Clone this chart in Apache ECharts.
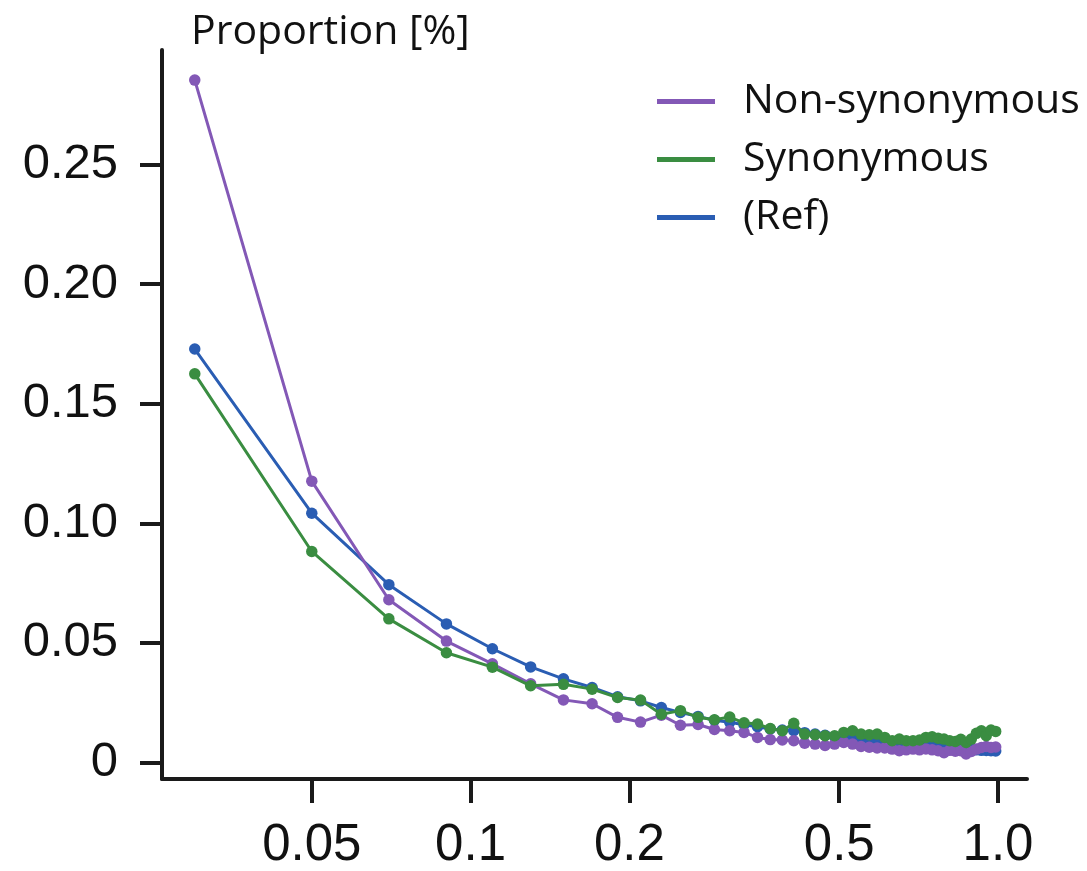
<!DOCTYPE html>
<html>
<head>
<meta charset="utf-8">
<style>
  html, body { margin: 0; padding: 0; background: #fff; }
  #chart { width: 1087px; height: 871px; }
</style>
<script src="https://cdn.jsdelivr.net/npm/echarts@6/dist/echarts.min.js"></script>
</head>
<body>
<div id="chart"></div>
<script>
const xValues = [0.03, 0.05, 0.07, 0.09, 0.11, 0.13, 0.15, 0.17, 0.19, 0.21,
  0.23, 0.25, 0.27, 0.29, 0.31, 0.33, 0.35, 0.37, 0.39, 0.41,
  0.43, 0.45, 0.47, 0.49, 0.51, 0.53, 0.55, 0.57, 0.59, 0.61,
  0.63, 0.65, 0.67, 0.69, 0.71, 0.73, 0.75, 0.77, 0.79, 0.81,
  0.83, 0.85, 0.87, 0.89, 0.91, 0.93, 0.95, 0.97, 0.99];

const nonSynonymous = [0.2854, 0.1176, 0.0680, 0.0507, 0.0412, 0.0328, 0.0261, 0.0245, 0.0188, 0.0168,
  0.0197, 0.0155, 0.0158, 0.0137, 0.0132, 0.0125, 0.0104, 0.0095, 0.0093, 0.0090,
  0.0080, 0.0076, 0.0070, 0.0076, 0.0083, 0.0076, 0.0066, 0.0063, 0.0060, 0.0060,
  0.0055, 0.0048, 0.0052, 0.0055, 0.0052, 0.0056, 0.0052, 0.0048, 0.0040, 0.0050,
  0.0046, 0.0048, 0.0035, 0.0045, 0.0055, 0.0062, 0.0066, 0.0062, 0.0064];

const synonymous = [0.1625, 0.0882, 0.0600, 0.0458, 0.0398, 0.0320, 0.0326, 0.0306, 0.0271, 0.0260,
  0.0201, 0.0216, 0.0188, 0.0178, 0.0189, 0.0165, 0.0160, 0.0141, 0.0132, 0.0163,
  0.0118, 0.0115, 0.0111, 0.0111, 0.0125, 0.0132, 0.0118, 0.0115, 0.0118, 0.0104,
  0.0090, 0.0097, 0.0090, 0.0090, 0.0093, 0.0104, 0.0107, 0.0101, 0.0097, 0.0090,
  0.0087, 0.0096, 0.0083, 0.0097, 0.0121, 0.0132, 0.0111, 0.0135, 0.0129];

const reference = [0.1729, 0.1042, 0.0743, 0.0579, 0.0475, 0.0399, 0.0349, 0.0313, 0.0274, 0.0257,
  0.0229, 0.0208, 0.0192, 0.0176, 0.0167, 0.0157, 0.0149, 0.0139, 0.0135, 0.0132,
  0.0124, 0.0118, 0.0113, 0.0108, 0.0104, 0.0099, 0.0095, 0.0091, 0.0088, 0.0084,
  0.0081, 0.0078, 0.0075, 0.0073, 0.0071, 0.0069, 0.0067, 0.0065, 0.0063, 0.0061,
  0.0059, 0.0057, 0.0055, 0.0054, 0.0052, 0.0050, 0.0049, 0.0048, 0.0047];

const xTickValues = [0.05, 0.1, 0.2, 0.5, 1.0];
const xTickLabels = ['0.05', '0.1', '0.2', '0.5', '1.0'];
const yTickValues = [0, 0.05, 0.1, 0.15, 0.2, 0.25];
const yTickLabels = ['0', '0.05', '0.10', '0.15', '0.20', '0.25'];

const seriesNames = ['Non-synonymous', 'Synonymous', '(Ref)'];
const seriesColors = ['#8358b6', '#3a8d41', '#2a5db3'];

function pairs(ys) { return xValues.map((x, i) => [x, ys[i]]); }
function lookup(values, labels, v) {
  for (let i = 0; i < values.length; i++) {
    if (Math.abs(values[i] - v) < 1e-9) return labels[i];
  }
  return '';
}

const chart = echarts.init(document.getElementById('chart'), null, { renderer: 'canvas' });
const axisColor = '#1a1a1a';

function mkSeries(idx, data, z) {
  return {
    name: seriesNames[idx],
    type: 'line',
    data: pairs(data),
    z: z,
    symbol: 'circle',
    symbolSize: 11.5,
    showSymbol: true,
    showAllSymbol: true,
    clip: false,
    color: seriesColors[idx],
    lineStyle: { width: 3, color: seriesColors[idx] },
    itemStyle: { color: seriesColors[idx] },
    emphasis: { disabled: true }
  };
}

chart.setOption({
  animation: false,
  title: {
    text: 'Proportion [%]',
    left: 186,
    top: 7,
    textStyle: { fontFamily: 'Open Sans', fontSize: 41, fontWeight: 'normal', color: '#111' }
  },
  legend: {
    orient: 'vertical',
    left: 652,
    top: 76,
    itemWidth: 58,
    itemHeight: 5,
    itemGap: 17,
    icon: 'rect',
    data: seriesNames,
    selectedMode: false,
    textStyle: { fontFamily: 'Open Sans', fontSize: 41, color: '#111', padding: [0, 0, 0, 23] }
  },
  grid: { left: 162, right: 60, top: 50, bottom: 89, containLabel: false },
  xAxis: {
    type: 'log',
    logBase: 10,
    min: 0.026,
    max: 1.135,
    axisLine: { show: true, onZero: false, lineStyle: { color: axisColor, width: 4 } },
    axisTick: { show: true, inside: false, length: 24, customValues: xTickValues, lineStyle: { color: axisColor, width: 4 } },
    minorTick: { show: false },
    splitLine: { show: false },
    axisLabel: {
      customValues: xTickValues,
      margin: 41,
      fontFamily: 'Liberation Sans',
      fontSize: 51,
      color: '#111',
      formatter: v => lookup(xTickValues, xTickLabels, v)
    }
  },
  yAxis: {
    type: 'value',
    min: -0.007,
    max: 0.298,
    axisLine: { show: true, onZero: false, lineStyle: { color: axisColor, width: 4 } },
    axisTick: { show: true, inside: false, length: 22, customValues: yTickValues, lineStyle: { color: axisColor, width: 4 } },
    splitLine: { show: false },
    axisLabel: {
      customValues: yTickValues,
      margin: 44,
      fontFamily: 'Liberation Sans',
      fontSize: 49,
      color: '#111',
      formatter: v => lookup(yTickValues, yTickLabels, v)
    }
  },
  series: [
    mkSeries(0, nonSynonymous, 3),
    mkSeries(1, synonymous, 4),
    mkSeries(2, reference, 2)
  ]
});
</script>
</body>
</html>
